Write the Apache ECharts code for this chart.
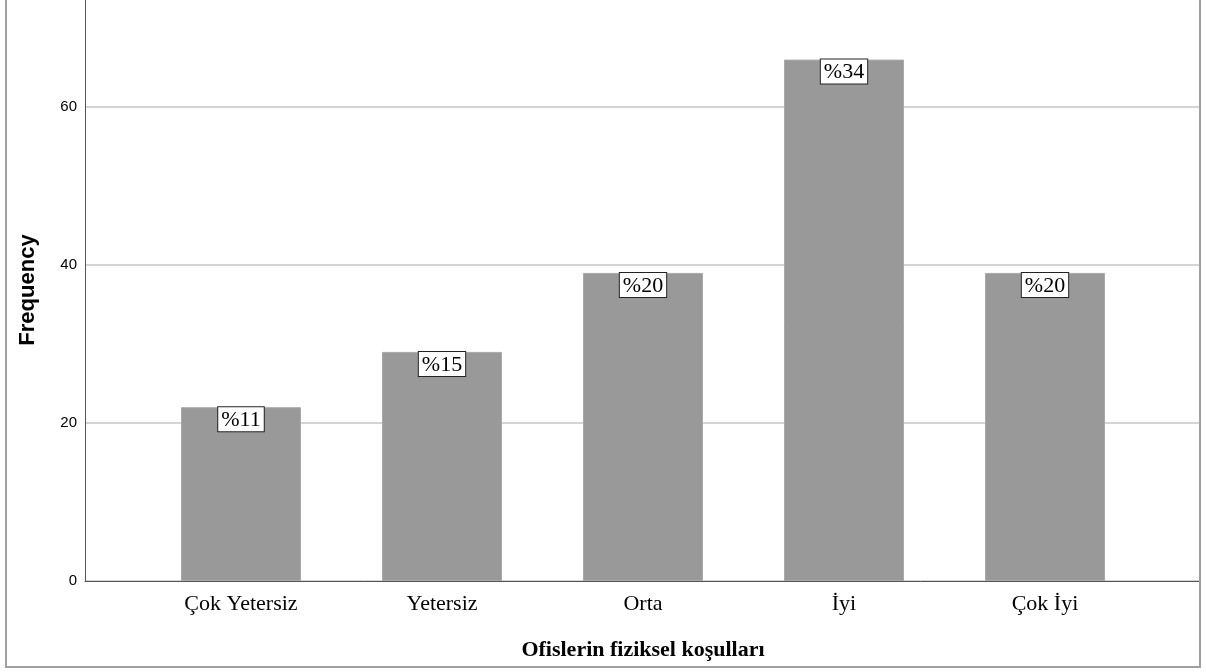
<!DOCTYPE html>
<html><head><meta charset="utf-8">
<script src="https://cdn.jsdelivr.net/npm/echarts@6/dist/echarts.min.js"></script>
<style>html,body{margin:0;padding:0;background:#fff;overflow:hidden}#c{position:absolute;left:0;top:-51px;width:1206px;height:723px}</style>
</head><body><div id="c"></div>
<script>
const categories = ['Çok Yetersiz', 'Yetersiz', 'Orta', 'İyi', 'Çok İyi'];
const frequencies = [22, 29, 39, 66, 39];
const percentLabels = ['%11', '%15', '%20', '%34', '%20'];
const yTicks = [0, 20, 40, 60];

// chart canvas is shifted up by 51px so that the plot's top gridline (80) sits off-screen
const OFF = 51;
const chart = echarts.init(document.getElementById('c'), null, {renderer: 'canvas'});
const yMax = 80;
chart.setOption({
  animation: false,
  grid: [
    {left: 85, right: 7, top: 0, height: 581 + OFF},
    {left: 140.5, width: 1005, top: 0, height: 581 + OFF}
  ],
  graphic: [{
    type: 'rect', shape: {x: 6, y: OFF - 10, width: 1194, height: 677},
    style: {fill: 'none', stroke: '#a0a0a0', lineWidth: 2}, silent: true, z: 100
  }, {
    type: 'text', x: 28, y: 290 + OFF, rotation: Math.PI / 2,
    style: {text: 'Frequency', font: 'bold 22px "Liberation Sans", Arial, sans-serif', fill: '#000',
      textAlign: 'center', textVerticalAlign: 'middle', align: 'center', verticalAlign: 'middle'}
  }],
  xAxis: [
    {gridIndex: 0, type: 'value', min: 0, max: 1, show: true,
     axisLine: {show: true, lineStyle: {color: '#555', width: 1}}, axisTick: {show: false},
     axisLabel: {show: false}, splitLine: {show: false}},
    {gridIndex: 1, type: 'category', data: categories,
     axisLine: {show: false}, axisTick: {show: false},
     axisLabel: {fontFamily: '"Liberation Serif", "Times New Roman", serif', fontSize: 22, color: '#000', margin: 12},
     name: 'Ofislerin fiziksel koşulları', nameLocation: 'middle', nameGap: 58,
     nameTextStyle: {fontFamily: '"Liberation Serif", "Times New Roman", serif', fontSize: 22, fontWeight: 'bold', color: '#000'}}
  ],
  yAxis: [
    {gridIndex: 0, type: 'value', min: 0, max: yMax, interval: 20,
     axisLine: {show: true, lineStyle: {color: '#555', width: 1}}, axisTick: {show: false},
     axisLabel: {fontFamily: '"Liberation Sans", Arial, sans-serif', fontSize: 15, color: '#000', margin: 8,
       formatter: v => yTicks.includes(v) ? String(v) : ''},
     splitLine: {show: true, lineStyle: {color: '#d4d4d4', width: 2}}},
    {gridIndex: 1, type: 'value', min: 0, max: yMax, interval: 20, show: false, splitLine: {show: false}}
  ],
  series: [{
    type: 'bar', xAxisIndex: 1, yAxisIndex: 1, data: frequencies, barWidth: 120,
    itemStyle: {color: '#999999', borderColor: '#a9a9a9', borderWidth: 1},
    label: {show: true, position: 'insideTop', distance: 0,
      formatter: p => percentLabels[p.dataIndex],
      fontFamily: '"Liberation Serif", "Times New Roman", serif', fontSize: 22, color: '#000',
      backgroundColor: '#fff', borderColor: '#222', borderWidth: 1, padding: [2, 3, 0, 3]}
  }]
});
</script></body></html>
